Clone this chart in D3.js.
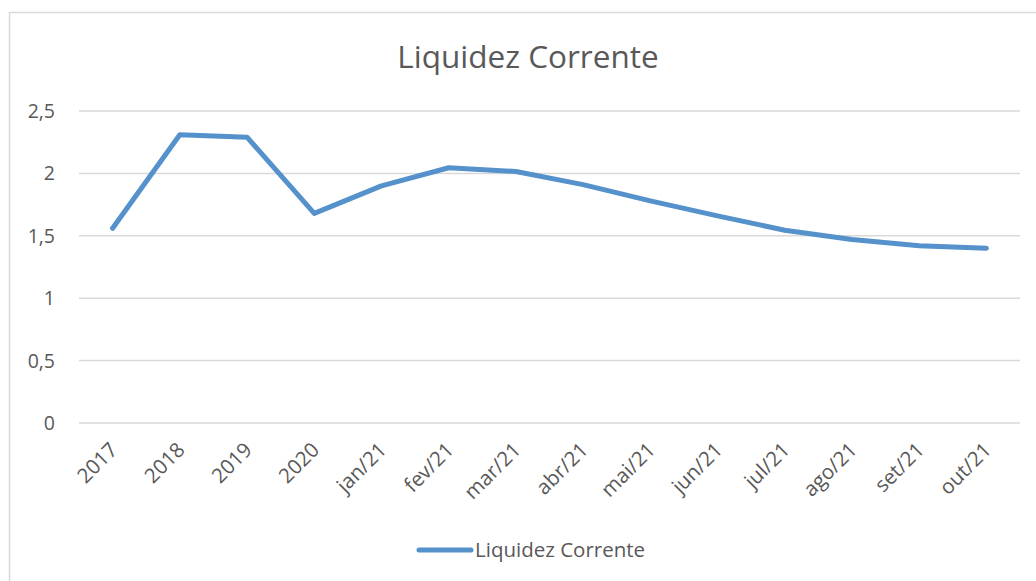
<!DOCTYPE html>
<html>
<head>
<meta charset="utf-8">
<script src="https://cdn.jsdelivr.net/npm/d3@7"></script>
<style>
  html, body { margin: 0; padding: 0; background: #fff; }
  svg { display: block; }
  text { font-family: "Open Sans", "Noto Sans", sans-serif; fill: #595959; }
</style>
</head>
<body>
<svg id="chart" width="1036" height="581"></svg>
<script>
const categories = ["2017", "2018", "2019", "2020", "jan/21", "fev/21", "mar/21", "abr/21", "mai/21", "jun/21", "jul/21", "ago/21", "set/21", "out/21"];
const values = [1.56, 2.31, 2.29, 1.68, 1.90, 2.045, 2.015, 1.91, 1.78, 1.66, 1.545, 1.47, 1.42, 1.40];
const yTicks = [0, 0.5, 1, 1.5, 2, 2.5];
const title = "Liquidez Corrente";
const seriesName = "Liquidez Corrente";

const svg = d3.select("#chart");
const plot = { left: 79, right: 1020, top: 111, bottom: 423 };
const color = "#5591cb";

// outer chart border
svg.append("rect")
  .attr("x", 9.5).attr("y", 12.5)
  .attr("width", 1100).attr("height", 700)
  .attr("fill", "none").attr("stroke", "#d9d9d9").attr("stroke-width", 1.5);

const x = d3.scaleBand().domain(categories).range([plot.left, plot.right]);
const y = d3.scaleLinear().domain([0, 2.5]).range([plot.bottom, plot.top]);

// gridlines
svg.append("g").selectAll("line").data(yTicks).join("line")
  .attr("x1", plot.left).attr("x2", plot.right)
  .attr("y1", d => y(d)).attr("y2", d => y(d))
  .attr("stroke", "#d9d9d9").attr("stroke-width", 1.5);

// y axis labels
const fmt = d => String(d).replace(".", ",");
svg.append("g").selectAll("text").data(yTicks).join("text")
  .attr("x", 55).attr("y", d => y(d))
  .attr("dy", "0.36em")
  .attr("text-anchor", "end")
  .style("font-size", "19.5px")
  .text(fmt);

// x axis labels
svg.append("g").selectAll("text").data(categories).join("text")
  .attr("transform", d => `translate(${x(d) + x.bandwidth() / 2 - 1},${plot.bottom + 21}) rotate(-45)`)
  .attr("text-anchor", "end")
  .attr("dy", "0.5em")
  .style("font-size", "20.5px")
  .text(d => d);

// line
const line = d3.line()
  .x((d, i) => x(categories[i]) + x.bandwidth() / 2)
  .y(d => y(d));
svg.append("path")
  .datum(values)
  .attr("d", line)
  .attr("fill", "none")
  .attr("stroke", color)
  .attr("stroke-width", 5)
  .attr("stroke-linejoin", "round")
  .attr("stroke-linecap", "round");

// title
svg.append("text")
  .attr("x", 528).attr("y", 68)
  .attr("text-anchor", "middle")
  .style("font-size", "31.5px")
  .text(title);

// legend
const lg = svg.append("g");
lg.append("line")
  .attr("x1", 419).attr("x2", 471)
  .attr("y1", 550).attr("y2", 550)
  .attr("stroke", color).attr("stroke-width", 5).attr("stroke-linecap", "round");
lg.append("text")
  .attr("x", 475).attr("y", 550).attr("dy", "0.36em")
  .style("font-size", "20.5px")
  .text(seriesName);
</script>
</body>
</html>
